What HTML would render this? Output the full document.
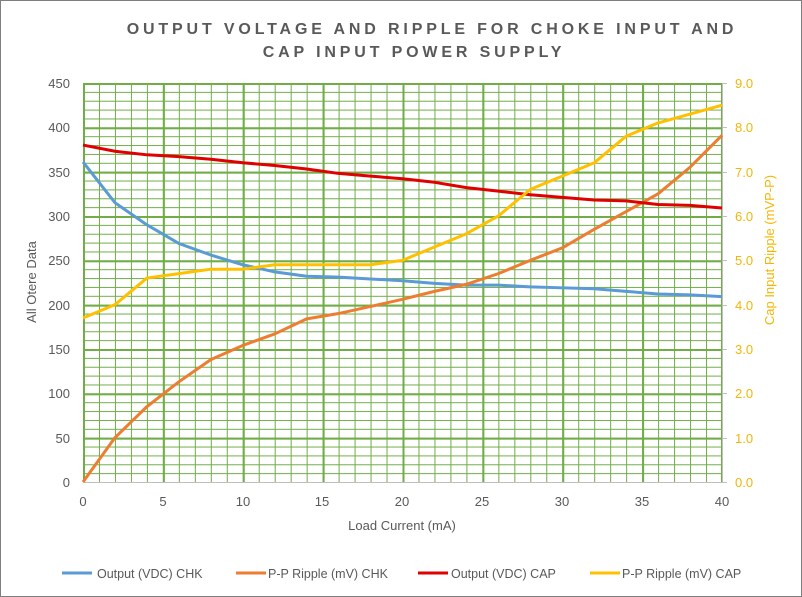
<!DOCTYPE html>
<html><head><meta charset="utf-8"><style>
body{margin:0;background:#fff}
svg{display:block;font-family:"Liberation Sans",sans-serif}
</style></head><body>
<svg width="802" height="597" viewBox="0 0 802 597">
<rect x="0.5" y="0.5" width="801" height="596" fill="#fff" stroke="#7f7f7f"/>
<defs>
<pattern id="mn" x="83" y="83" width="15.975" height="8.867" patternUnits="userSpaceOnUse">
<path d="M0.5 0V8.867M0 0.5H15.975" stroke="#70ad47" stroke-width="1" fill="none"/>
</pattern>
<pattern id="mj" x="83" y="83" width="79.875" height="44.333" patternUnits="userSpaceOnUse">
<path d="M1 0V44.333M0 1H79.875" stroke="#70ad47" stroke-width="2" fill="none"/>
</pattern>
</defs>
<text x="432" y="34" text-anchor="middle" font-size="16" font-weight="bold" fill="#595959" letter-spacing="3.85">OUTPUT VOLTAGE AND RIPPLE FOR CHOKE INPUT AND</text>
<text x="414" y="57" text-anchor="middle" font-size="16" font-weight="bold" fill="#595959" letter-spacing="3.85">CAP INPUT POWER SUPPLY</text>
<rect x="83" y="83" width="639" height="399" fill="url(#mn)"/>
<rect x="83" y="83" width="639" height="399" fill="url(#mj)"/>
<line x1="722" y1="83" x2="722" y2="482" stroke="#70ad47" stroke-width="2"/>
<line x1="83" y1="482.5" x2="722" y2="482.5" stroke="#bfbfbf"/>
<line x1="722.5" y1="83" x2="722.5" y2="482" stroke="#bfbfbf"/>
<g stroke="#bfbfbf">
<line x1="722" y1="83.5" x2="727" y2="83.5"/><line x1="722" y1="127.5" x2="727" y2="127.5"/><line x1="722" y1="172.5" x2="727" y2="172.5"/><line x1="722" y1="216.5" x2="727" y2="216.5"/><line x1="722" y1="260.5" x2="727" y2="260.5"/><line x1="722" y1="305.5" x2="727" y2="305.5"/><line x1="722" y1="349.5" x2="727" y2="349.5"/><line x1="722" y1="393.5" x2="727" y2="393.5"/><line x1="722" y1="438.5" x2="727" y2="438.5"/><line x1="722" y1="482.5" x2="727" y2="482.5"/>
</g>
<g font-size="13" fill="#595959" text-anchor="end">
<text x="70" y="88">450</text><text x="70" y="132">400</text><text x="70" y="177">350</text><text x="70" y="221">300</text><text x="70" y="265">250</text><text x="70" y="310">200</text><text x="70" y="354">150</text><text x="70" y="398">100</text><text x="70" y="443">50</text><text x="70" y="487">0</text>
</g>
<g font-size="13" fill="#f2b705">
<text x="735" y="88">9.0</text><text x="735" y="132">8.0</text><text x="735" y="177">7.0</text><text x="735" y="221">6.0</text><text x="735" y="265">5.0</text><text x="735" y="310">4.0</text><text x="735" y="354">3.0</text><text x="735" y="398">2.0</text><text x="735" y="443">1.0</text><text x="735" y="487">0.0</text>
</g>
<g font-size="13" fill="#595959" text-anchor="middle">
<text x="83" y="506">0</text><text x="163" y="506">5</text><text x="243" y="506">10</text><text x="322" y="506">15</text><text x="402" y="506">20</text><text x="482" y="506">25</text><text x="562" y="506">30</text><text x="642" y="506">35</text><text x="722" y="506">40</text>
<text x="402" y="530">Load Current (mA)</text>
</g>
<text transform="translate(36,282) rotate(-90)" text-anchor="middle" font-size="13" fill="#595959">All Otere Data</text>
<text transform="translate(774,250) rotate(-90)" text-anchor="middle" font-size="13" fill="#f2b705">Cap Input Ripple (mVP-P)</text>
<g transform="translate(83,482) scale(15.975,-0.8867)" fill="none" stroke-width="3" stroke-linejoin="round">
<polyline vector-effect="non-scaling-stroke" stroke="#5b9bd5" points="0,361 2,315 4,290 6,269 8,256 10,245 12,237 14,232 16,231 18,229 20,227 22,224 24,222 26,222 28,220 30,219 32,218 34,215 36,212 38,211 40,209"/>
<polyline vector-effect="non-scaling-stroke" stroke="#ed7d31" points="0,0 2,50 4,85 6,113 8,138 10,154 12,167 14,184 16,190 18,198 20,206 22,215 24,223 26,235 28,250 30,264 32,285 34,305 36,325 38,355 40,391"/>
<polyline vector-effect="non-scaling-stroke" stroke="#e00000" points="0,380 2,373 4,369 6,367 8,364 10,360 12,357 14,353 16,348 18,345 20,342 22,338 24,332 26,328 28,324 30,321 32,318 34,317 36,313 38,312 40,309"/>
<polyline vector-effect="non-scaling-stroke" stroke="#ffc000" points="0,185 2,200 4,230 6,235 8,240 10,240 12,245 14,245 16,245 18,245 20,250 22,265 24,280 26,300 28,330 30,345 32,360 34,390 36,405 38,415 40,425"/>
</g>
<g font-size="12.5" fill="#595959">
<line x1="62" y1="573" x2="92" y2="573" stroke="#5b9bd5" stroke-width="3"/><text x="97" y="578">Output (VDC) CHK</text>
<line x1="236" y1="573" x2="266" y2="573" stroke="#ed7d31" stroke-width="3"/><text x="268" y="578">P-P Ripple (mV) CHK</text>
<line x1="418" y1="573" x2="448" y2="573" stroke="#e00000" stroke-width="3"/><text x="451" y="578">Output (VDC) CAP</text>
<line x1="590" y1="573" x2="620" y2="573" stroke="#ffc000" stroke-width="3"/><text x="622" y="578">P-P Ripple (mV) CAP</text>
</g>
</svg>
</body></html>
